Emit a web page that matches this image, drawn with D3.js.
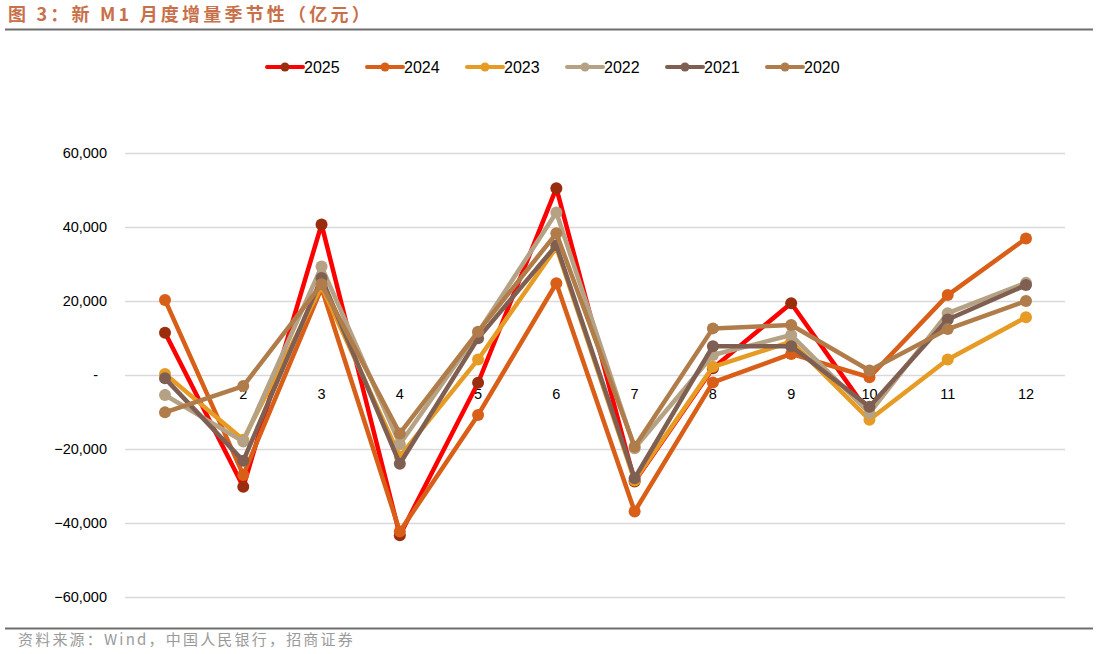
<!DOCTYPE html>
<html><head><meta charset="utf-8">
<script src="https://cdn.jsdelivr.net/npm/d3@7"></script>
<style>body{margin:0;background:#fff;}svg{display:block;}</style>
</head><body>
<svg id="c" width="1099" height="654"></svg>
<script>
const months = [1,2,3,4,5,6,7,8,9,10,11,12];
const yTicks = [-60000,-40000,-20000,0,20000,40000,60000];
const s2025 = [11400,-30200,40700,-43300,-2100,50500,-28800,1800,19400,-10500,null,null];
const s2024 = [20300,-27000,23500,-42300,-10800,24800,-36900,-2000,5700,-600,21600,36900];
const s2023 = [300,-17500,24000,-22000,4200,34500,-28500,2200,9000,-12100,4200,15600];
const s2022 = [-5400,-18000,29300,-18700,11500,43900,-19800,5400,10800,-10300,16700,24900];
const s2021 = [-900,-23200,26200,-24000,9900,35100,-27900,7800,7800,-8600,15000,24300];
const s2020 = [-10100,-3000,24500,-15800,11700,38300,-19400,12600,13500,1200,12400,20000];
const seriesNames = ["2025","2024","2023","2022","2021","2020"];
const seriesData = [s2025,s2024,s2023,s2022,s2021,s2020];
const lineColors = ["#FF0000","#D95F18","#E69B25","#B5A284","#7F5F52","#B07C4A"];
const dotColors = ["#9B2D0F","#D95F18","#E69B25","#B5A284","#7F5F52","#B07C4A"];

const svg = d3.select("#c");
// title
svg.append("text").attr("x",8).attr("y",21)
  .attr("font-family","'Noto Sans CJK SC','Liberation Sans',sans-serif")
  .attr("font-weight","bold").attr("font-size",18).attr("fill","#C8704A")
  .attr("letter-spacing","3.2px").attr("xml:space","preserve")
  .text("图 3：新 M1 月度增量季节性（亿元）");
svg.append("line").attr("x1",5).attr("x2",1093).attr("y1",29.5).attr("y2",29.5)
  .attr("stroke","#6e6e6e").attr("stroke-width",2);
svg.append("line").attr("x1",5).attr("x2",1093).attr("y1",628.5).attr("y2",628.5)
  .attr("stroke","#6e6e6e").attr("stroke-width",2);
svg.append("text").attr("x",18).attr("y",645)
  .attr("font-family","'Noto Sans CJK SC','Liberation Sans',sans-serif")
  .attr("font-size",15).attr("fill","#9a9a9a").attr("letter-spacing","2.2px")
  .text("资料来源：Wind，中国人民银行，招商证券");

const x = d3.scalePoint().domain(months).range([165,1026]);
const y = d3.scaleLinear().domain([-60000,60000]).range([597,153]);

// grid
svg.append("g").selectAll("line").data(yTicks).join("line")
  .attr("x1",125).attr("x2",1065)
  .attr("y1",d=>y(d)+0.5).attr("y2",d=>y(d)+0.5)
  .attr("stroke","#d9d9d9").attr("stroke-width",1.3);

const fmt = d3.format(",");
svg.append("g").selectAll("text").data(yTicks).join("text")
  .attr("x",d=> d===0 ? 98 : 107).attr("y",d=>y(d)+5)
  .attr("text-anchor","end")
  .attr("font-family","'Liberation Sans',Arial,sans-serif").attr("font-size",14.5).attr("fill","#000")
  .text(d=> d===0 ? "-" : fmt(d));

svg.append("g").selectAll("text").data(months).join("text")
  .attr("x",d=>x(d)).attr("y",399).attr("text-anchor","middle")
  .attr("font-family","'Liberation Sans',Arial,sans-serif").attr("font-size",14.5).attr("fill","#000")
  .text(d=>d);

const line = d3.line().defined(d=>d.v!==null).x(d=>x(d.m)).y(d=>y(d.v));
seriesData.forEach((s,i)=>{
  const pts = months.map((m,j)=>({m, v:s[j]}));
  svg.append("path").datum(pts).attr("d",line).attr("fill","none")
    .attr("stroke",lineColors[i]).attr("stroke-width",4.5).attr("stroke-linejoin","round");
  svg.append("g").selectAll("circle").data(pts.filter(d=>d.v!==null)).join("circle")
    .attr("cx",d=>x(d.m)).attr("cy",d=>y(d.v)).attr("r",6).attr("fill",dotColors[i]);
});

// legend
const lg = svg.append("g");
seriesNames.forEach((n,i)=>{
  const gx = 267 + i*100;
  lg.append("line").attr("x1",gx).attr("x2",gx+36).attr("y1",67).attr("y2",67)
    .attr("stroke",lineColors[i]).attr("stroke-width",4).attr("stroke-linecap","round");
  lg.append("circle").attr("cx",gx+18).attr("cy",67).attr("r",4.5).attr("fill",dotColors[i]);
  lg.append("text").attr("x",gx+37).attr("y",72.5)
    .attr("font-family","'Liberation Sans',Arial,sans-serif").attr("font-size",16).attr("fill","#000")
    .text(n);
});
</script>
</body></html>
